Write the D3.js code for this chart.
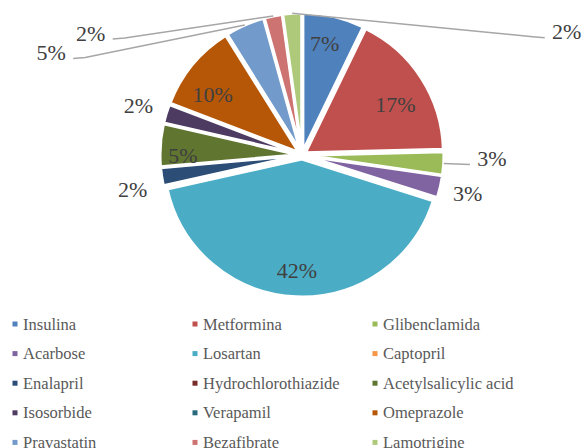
<!DOCTYPE html>
<html>
  <head>
    <meta charset="utf-8">
    <title>Medication use</title>
    <script src="https://d3js.org/d3.v7.min.js"></script>
    <style>
      body { margin: 0; background: #fff; }
    </style>
  </head>
  <body>
<script>
// data
const categories = ["Insulina", "Metformina", "Glibenclamida", "Acarbose", "Losartan", "Captopril",
  "Enalapril", "Hydrochlorothiazide", "Acetylsalicylic acid", "Isosorbide", "Verapamil",
  "Omeprazole", "Pravastatin", "Bezafibrate", "Lamotrigine"];
const values = [7.2, 17.4, 2.7, 2.6, 41.6, 0, 2.1, 0, 5.0, 2.2, 0, 10.3, 4.6, 2.1, 2.2];
const colors = ["#4F81BD", "#C0504D", "#9BBB59", "#8064A2", "#4BACC6", "#F79646",
  "#2C4D75", "#772C2A", "#5F7530", "#4D3B62", "#276A7C", "#B65708", "#729ACA", "#CD7371", "#AFC97A"];

// label placement: [angle shift in degrees, distance from centre, leader line side]
const labelPlace = {
  "Insulina": [-1.5, 114],
  "Metformina": [4.5, 106],
  "Glibenclamida": [-2.4, 190, "right"],
  "Acarbose": [0, 170],
  "Losartan": [0, 116],
  "Enalapril": [-2.8, 173],
  "Acetylsalicylic acid": [-4, 119],
  "Isosorbide": [0, 171],
  "Omeprazole": [-5.2, 108],
  "Pravastatin": [-44, 271, "left"],
  "Bezafibrate": [-48.3, 244, "left"],
  "Lamotrigine": [69, 292, "right"]
};

const W = 584, H = 448;
const cx = 302, cy = 155, R = 138, explode = 4;
const FONT = "Liberation Serif";

const svg = d3.select("body").append("svg")
  .attr("width", W).attr("height", H)
  .style("display", "block");

const pie = d3.pie().sort(null).value(d => d.v);
const arcs = pie(categories.map((c, i) => ({ name: c, v: values[i], color: colors[i] })))
  .filter(a => a.data.v > 0);
const total = d3.sum(values);
const arc = d3.arc().innerRadius(0).outerRadius(R);

const mid = a => (a.startAngle + a.endAngle) / 2;
const polar = (ang, r) => [cx + r * Math.sin(ang), cy - r * Math.cos(ang)];

const g = svg.append("g");
g.selectAll("path.slice")
  .data(arcs)
  .enter().append("path")
  .attr("class", "slice")
  .attr("d", arc)
  .attr("transform", a => {
    const p = polar(mid(a), explode);
    return "translate(" + p[0] + "," + p[1] + ")";
  })
  .attr("fill", a => a.data.color)
  .attr("stroke", "#fff")
  .attr("stroke-width", 3)
  .attr("stroke-linejoin", "miter");

// data labels
arcs.forEach(a => {
  const lp = labelPlace[a.data.name];
  const ang = mid(a) + lp[0] * Math.PI / 180;
  const p = polar(ang, lp[1]);
  const txt = Math.round(a.data.v / total * 100) + "%";
  if (lp[2]) {
    const edge = polar(mid(a), R + explode);
    const side = lp[2] === "left" ? 1 : -1;
    const halfW = 15;
    const end = [p[0] + side * (halfW + 7), p[1] + 6];
    const elbow = [end[0] + side * 12, end[1] - 1];
    const pts = a.data.name === "Glibenclamida" ? [edge, end] : [edge, elbow, end];
    svg.append("path")
      .attr("d", d3.line()(pts))
      .attr("fill", "none")
      .attr("stroke", "#A6A6A6")
      .attr("stroke-width", 1.5);
  }
  svg.append("text")
    .attr("x", p[0]).attr("y", p[1])
    .attr("text-anchor", "middle")
    .attr("dominant-baseline", "central")
    .style("font-family", FONT)
    .attr("font-size", 22)
    .attr("fill", "#404040")
    .text(txt);
});

// legend
const colX = [15, 195, 375], rowY = 324, rowH = 29.6;
const leg = svg.append("g").selectAll("g")
  .data(categories)
  .enter().append("g")
  .attr("transform", (d, i) => "translate(" + colX[i % 3] + "," + (rowY + Math.floor(i / 3) * rowH) + ")");
leg.append("rect")
  .attr("x", -2.5).attr("y", -2.5).attr("width", 5).attr("height", 5)
  .attr("fill", (d, i) => colors[i]);
leg.append("text")
  .attr("x", 8).attr("y", 0)
  .attr("dominant-baseline", "central")
  .style("font-family", FONT)
  .attr("font-size", 16.5)
  .attr("fill", "#595959")
  .text(d => d);
</script>
  </body>
</html>
